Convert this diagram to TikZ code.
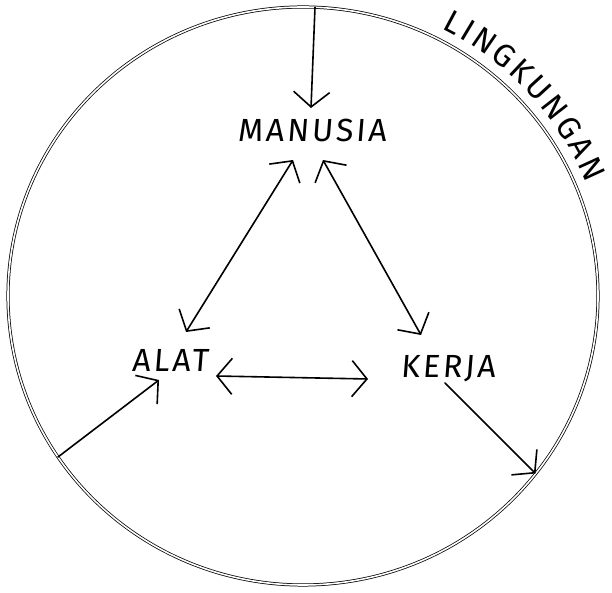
\documentclass[tikz,border=0pt]{standalone}
\usepackage{fontspec}
\usetikzlibrary{arrows.meta,decorations.text}
\newfontfamily\hand{Fira Sans}[FakeSlant=0.08,LetterSpace=9]
\newfontfamily\handarc{Fira Sans}
\begin{document}
\begin{tikzpicture}[x=1pt,y=1pt,
  lbl/.style={inner sep=0pt,font=\hand\fontsize{32}{32}\selectfont},
  ring/.style={draw=black,line width=0.75pt,double=white,double distance=1.6pt},
  arr/.style={line width=1.6pt,line cap=round,-{Straight Barb[length=15pt,width=36pt,line width=1.6pt]}},
  darr/.style={line width=1.6pt,line cap=round,{Straight Barb[length=15pt,width=36pt,line width=1.6pt]}-{Straight Barb[length=15pt,width=36pt,line width=1.6pt]}}]
\useasboundingbox (0,0) rectangle (612,593);
\fill[white] (0,0) rectangle (612,593);
% environment circle
\coordinate (c) at (303,297);
\draw[ring] (c) ellipse [x radius=295, y radius=289];
\coordinate (top) at (315,585.8);
\coordinate (lft) at (58,136);
\coordinate (rgt) at (535.5,119.5);
% label along the circle
\path[font=\handarc\fontsize{32}{32}\selectfont,decorate,decoration={text along path,text align={fit to path},
  text={|\handarc\fontsize{32}{32}\selectfont|LINGKUNGAN}}]
  (441.9,564.4) arc[start angle=63,end angle=22,x radius=305,y radius=299];
% nodes
\node[lbl] (man) at (312,463) {MANUSIA};
\node[lbl] (alat) at (170,233) {ALAT};
\node[lbl] (kerja) at (448,224) {KERJA};
% connectors
\draw[arr] (top) -- ([shift={(-1,22)}]man.center);
\draw[darr] ([shift={(-19,-30)}]man.center) -- ([shift={(16,28)}]alat.center);
\draw[darr] ([shift={(11,-30)}]man.center) -- ([shift={(-27,34)}]kerja.center);
\draw[darr] ([shift={(46,-16)}]alat.center) -- ([shift={(-80,-10)}]kerja.center);
\draw[arr] (lft) -- ([shift={(-11,-20)}]alat.center);
\draw[arr] ([shift={(-3,-14)}]kerja.center) -- (rgt);
\end{tikzpicture}
\end{document}
